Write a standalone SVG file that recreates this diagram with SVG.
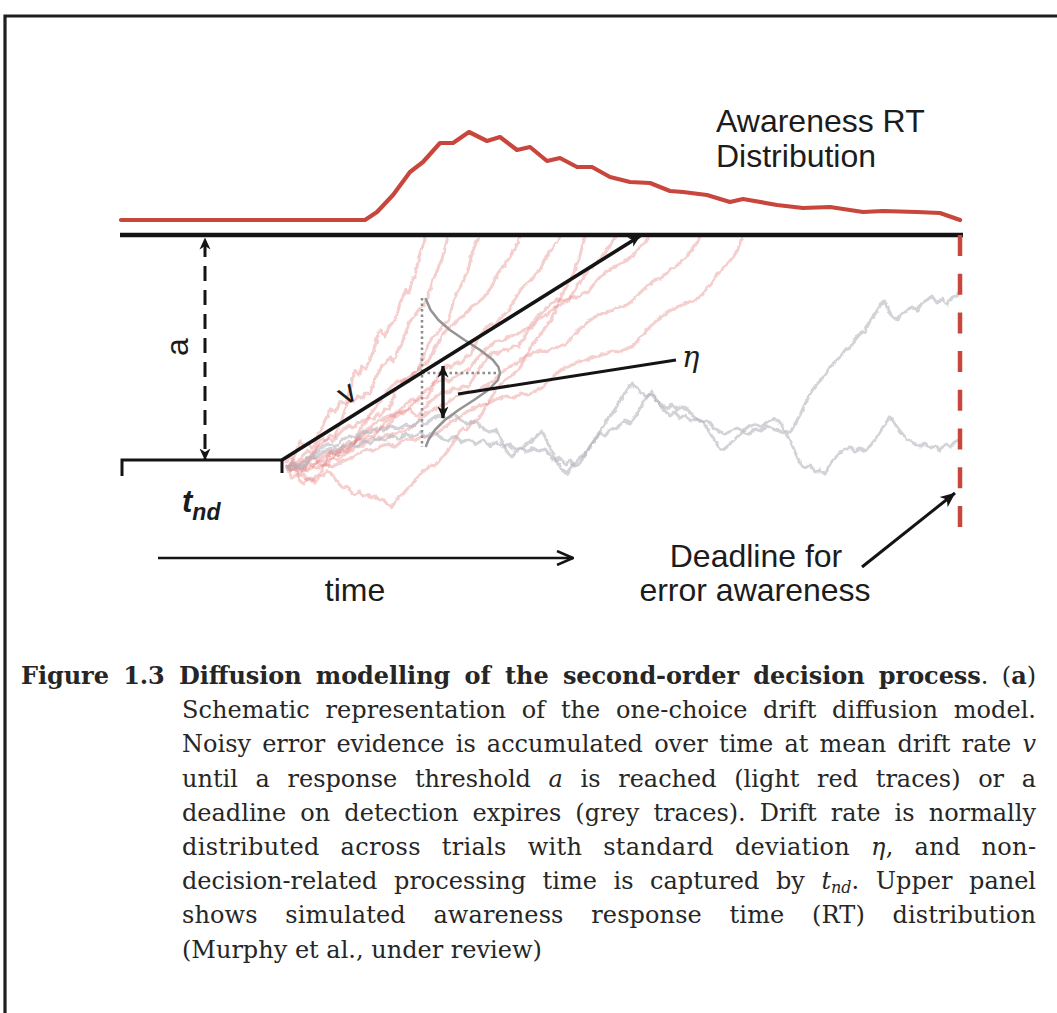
<svg xmlns="http://www.w3.org/2000/svg" width="1057" height="1013" viewBox="0 0 1057 1013">
  <style>
    .frame { stroke:#1f1f1f; stroke-width:3.2; fill:none }
    .trace-red { fill:none; stroke:#e47676; stroke-opacity:0.36; stroke-width:3; stroke-linejoin:round }
    .trace-grey { fill:none; stroke:#b4b4bc; stroke-opacity:0.6; stroke-width:3; stroke-linejoin:round }
    .ink { fill:none; stroke:#141414; stroke-linecap:butt }
    .dots { fill:none; stroke:#8c8c8c; stroke-width:2.5; stroke-dasharray:2.5 3 }
    .lbl { font-family:"Liberation Sans", Arial, Helvetica, sans-serif; font-size:32px; fill:#1c1c1c }
    .cap { font-family:"DejaVu Serif", "Liberation Serif", serif; font-size:24px; fill:#262626 }
  </style>
  <defs>
    <marker id="head" viewBox="0 0 12 12" refX="11.5" refY="6" markerWidth="12" markerHeight="12" markerUnits="userSpaceOnUse" orient="auto-start-reverse">
      <path d="M0,0.5 L12,6 L0,11.5 L3.5,6 z" fill="#141414"/>
    </marker>
    <marker id="head-lg" viewBox="0 0 15 14" refX="14.5" refY="7" markerWidth="15" markerHeight="14" markerUnits="userSpaceOnUse" orient="auto">
      <path d="M0,0.5 L15,7 L0,13.5 L4,7 z" fill="#141414"/>
    </marker>
    <marker id="chevron" viewBox="0 0 18 16" refX="17" refY="8" markerWidth="18" markerHeight="16" markerUnits="userSpaceOnUse" orient="auto">
      <path d="M1,1 L17,8 L1,15" fill="none" stroke="#141414" stroke-width="2.5"/>
    </marker>
    <filter id="jitter" filterUnits="userSpaceOnUse" x="250" y="220" width="740" height="310">
      <feTurbulence type="fractalNoise" baseFrequency="0.22" numOctaves="1" seed="7" result="noise"/>
      <feDisplacementMap in="SourceGraphic" in2="noise" scale="4" xChannelSelector="R" yChannelSelector="G"/>
    </filter>
  </defs>

  <rect width="1057" height="1013" fill="#ffffff"/>

  <!-- page frame -->
  <g id="frame">
    <path class="frame" d="M5,1013 V16 H1057"/>
  </g>

  <!-- simulated diffusion traces -->
  <g id="traces" filter="url(#jitter)">
    <g id="hit-traces">
      <polyline class="trace-red" points="286,463 290,456 293,460 297,449 300,441 304,446 308,443 312,449 315,444 318,435 322,428 325,420 328,415 331,409 335,412 339,404 342,401 346,404 349,393 352,381 355,371 359,375 362,366 366,368 370,359 373,352 376,343 378,333 381,330 385,336 389,327 393,322 397,315 400,303 403,296 406,290 409,293 412,281 415,276 417,267 419,257 421,250 424,243 426,237"/>
      <polyline class="trace-red" points="287,465 291,470 295,467 299,474 303,470 307,463 311,456 315,451 318,443 322,438 326,441 330,435 334,437 338,429 341,422 344,413 347,405 350,399 354,402 358,396 362,398 366,393 370,394 373,385 376,377 379,372 382,366 386,363 390,358 394,361 398,350 401,346 404,337 407,329 410,321 413,318 417,312 421,307 425,304 428,296 431,287 433,279 436,274 439,266 442,259 444,252 446,244 448,237"/>
      <polyline class="trace-red" points="286,466 289,473 292,478 296,475 300,481 304,484 308,478 312,481 316,476 320,474 324,466 327,458 331,452 335,449 339,452 343,446 347,448 351,444 355,443 358,434 361,427 365,423 369,418 373,420 377,414 381,416 385,409 389,410 392,401 395,393 398,388 401,383 405,379 409,382 413,373 417,371 420,366 423,356 426,349 429,343 432,338 436,334 440,330 444,324 448,321 451,312 453,302 456,295 459,289 462,284 465,276 468,271 470,262 472,253 475,246 478,237"/>
      <polyline class="trace-red" points="288,466 293,460 298,462 303,455 308,451 313,454 318,447 323,443 328,438 333,441 338,435 343,430 348,426 353,428 358,423 363,421 368,417 373,411 378,404 383,397 388,390 393,385 398,381 403,383 408,377 413,374 418,369 423,366 428,362 432,354 436,346 440,340 444,333 448,328 452,325 456,322 460,318 464,316 468,311 472,306 476,304 480,301 484,297 488,292 492,286 495,279 498,273 502,268 506,263 510,257 514,250 517,244 520,237"/>
      <polyline class="trace-red" points="287,467 292,463 297,468 302,466 307,471 312,468 317,462 322,459 327,456 332,452 337,455 342,451 347,452 352,446 357,440 362,437 367,432 372,429 377,432 382,427 387,428 392,420 397,413 402,408 407,403 412,399 417,402 422,397 427,398 431,390 435,381 439,375 443,370 447,365 451,368 456,362 461,364 466,357 471,354 475,345 479,337 483,332 487,327 491,324 495,326 500,318 505,314 510,309 514,301 518,294 522,288 526,284 530,281 535,275 540,270 544,261 548,254 552,249 556,243 560,237"/>
      <polyline class="trace-red" points="287,466 291,471 295,469 299,476 303,474 307,480 311,478 315,483 319,477 323,475 327,471 331,473 335,479 339,484 343,488 347,486 351,492 355,495 359,491 363,496 367,494 371,498 375,495 379,501 383,499 387,504 391,507 395,503 399,497 403,494 407,489 411,486 415,480 419,476 423,471 427,469 431,465 435,466 439,460 443,457 447,452 451,447 455,440 459,432 463,428 467,430 471,424 475,421 479,419 483,412 487,404 491,398 495,391 499,386 503,382 507,379 511,376 515,372 519,370 523,362 527,354 531,347 535,341 539,336 543,331 547,325 551,320 555,311 559,301 563,293 567,286 571,279 574,272 577,264 580,256 582,247 585,237"/>
      <polyline class="trace-red" points="288,468 293,464 298,466 303,460 308,462 313,458 318,463 323,466 328,464 333,457 338,450 343,446 348,441 353,443 358,439 363,441 368,436 373,437 378,431 383,424 388,420 393,415 398,411 403,414 408,409 413,413 418,416 423,410 428,404 433,399 438,395 443,391 448,393 453,388 458,390 463,386 468,387 473,379 478,370 483,364 488,357 493,352 498,354 503,349 508,351 513,346 518,347 523,339 528,331 533,326 538,320 543,316 548,314 553,309 558,306 563,303 568,301 573,293 578,285 583,278 588,271 593,266 598,262 603,256 607,250 611,244 615,237"/>
      <polyline class="trace-red" points="288,468 294,463 300,465 306,459 312,457 318,459 324,454 330,452 336,455 342,451 348,449 354,444 360,436 366,430 372,426 378,421 384,419 390,415 396,417 402,412 408,409 414,403 420,396 426,390 432,386 438,381 444,379 450,381 456,376 462,373 468,370 474,362 480,355 486,349 492,344 498,340 504,341 510,336 516,335 522,331 528,328 534,321 540,314 546,308 552,303 558,299 564,301 570,297 576,298 582,294 588,292 594,284 600,277 606,272 612,268 618,265 624,262 630,258 636,252 641,246 646,241 650,237"/>
      <polyline class="trace-red" points="289,470 295,466 301,469 307,463 313,465 319,461 325,462 331,458 337,460 343,455 349,452 355,448 361,446 367,441 373,438 379,440 385,435 391,436 397,433 403,431 409,429 415,424 421,418 427,413 433,410 439,406 445,404 451,400 457,396 463,394 469,391 475,393 481,388 487,386 493,381 499,375 505,370 511,366 517,363 523,358 529,355 535,352 541,350 547,352 553,348 559,347 565,344 571,339 577,332 583,326 589,321 595,317 601,314 607,312 613,310 619,307 625,306 631,302 637,296 643,290 649,284 655,280 661,278 667,273 673,268 679,264 685,258 690,252 695,246 700,237"/>
      <polyline class="trace-red" points="290,472 297,468 304,471 311,466 318,468 325,464 332,467 339,463 346,460 353,457 360,453 367,449 374,451 381,446 388,444 395,447 402,441 409,439 416,440 423,436 430,437 437,433 444,428 451,422 458,418 465,413 472,409 479,406 486,404 493,401 500,398 507,396 514,398 521,393 528,395 535,391 542,388 549,381 556,374 563,369 570,366 577,362 584,361 591,358 598,356 605,354 612,351 619,352 626,349 633,346 640,338 647,330 654,323 661,317 668,312 675,308 682,305 689,302 696,300 703,294 709,286 714,279 719,272 724,267 729,262 734,256 738,249 742,237"/>
    </g>
    <g id="miss-traces">
      <polyline class="trace-grey" points="286,468 293,463 300,466 307,458 314,455 321,448 328,444 335,447 342,440 349,436 356,438 363,431 370,433 377,428 384,430 391,426 398,429 405,425 412,427 419,421 426,424 433,418 440,416 447,419 454,414 461,420 468,424 475,421 482,428 489,432 496,430 502,441 507,452 512,457 517,451 522,448 527,444 532,440 537,436 542,431 547,441 552,452 557,462 562,470 567,474 572,466 577,461 582,456 587,452 592,444 597,436 602,428 607,420 612,414 617,406 622,398 627,389 632,384 637,388 642,394 647,397 652,392 657,401 662,405 667,409 672,404 677,410 683,406 689,412 695,418 701,422 707,420 713,427 719,431 725,434 731,431 737,428 743,431 749,426 755,424 761,427 767,422 773,419 779,421 785,431 790,433 795,424 800,415 805,404 810,394 815,386 820,381 825,375 830,367 835,362 840,357 845,350 850,348 855,340 860,334 865,331 870,321 875,314 880,306 884,300 888,309 892,316 897,320 902,314 907,310 912,307 917,311 922,303 927,300 932,296 937,303 942,299 947,304 952,297 957,296 960,292"/>
      <polyline class="trace-grey" points="287,470 294,466 301,469 308,462 315,458 322,452 329,449 336,452 343,447 350,444 357,447 364,441 371,443 378,438 385,440 392,436 399,439 406,434 413,437 420,433 427,436 434,432 441,438 448,441 455,436 462,442 469,439 476,444 483,440 490,446 497,442 503,447 509,444 515,449 521,447 527,452 533,448 539,451 545,449 550,455 555,461 560,458 565,464 570,461 575,466 580,463 585,455 590,446 595,440 600,433 605,436 610,430 615,428 620,425 625,421 630,423 635,417 640,408 645,400 650,393 655,398 660,405 665,411 670,416 675,412 680,418 685,415 691,421 697,419 703,422 708,430 713,438 718,446 723,450 728,446 733,441 738,436 743,432 749,434 755,429 761,431 767,426 773,429 779,431 785,433 790,440 795,452 800,463 805,468 810,465 815,472 820,470 825,474 830,464 835,458 840,453 845,449 850,447 855,452 860,448 865,451 870,446 875,440 880,432 885,424 890,417 895,424 900,431 905,437 910,441 915,444 920,447 925,443 930,448 935,446 940,450 945,444 950,447 955,442 958,440"/>
    </g>
  </g>

  <!-- across-trial drift distribution -->
  <g id="drift-distribution">
    <path class="dots" d="M422,298 V447 M422,373 H500"/>
    <path d="M425.4,298 L430.6,310 L438.4,320 L449.9,330 L464.6,340 L480.1,350 L493,360 L498.4,367 L500,373 L497.9,380 L488.4,390 L474,400 L458.5,410 L444.9,420 L434.8,430 L428.4,440 L425.7,447" fill="none" stroke="#949494" stroke-width="2.5" stroke-linejoin="round"/>
  </g>

  <!-- awareness RT distribution -->
  <g id="rt-distribution">
    <polyline points="121,220 365,220 377,212 393,195 410,172 423,162 440,143 453,143 469,132 487,141 500,137 517,150 530,147 547,161 560,158 577,167 592,167 610,177 630,182 650,183 670,191 683,192 707,195 730,202 743,199 777,205 803,208 830,207 863,212 883,211 917,212 940,213 960,220" fill="none" stroke="#c8463c" stroke-width="4.2" stroke-linejoin="round" stroke-linecap="round"/>
    <text class="lbl" x="716" y="132">Awareness RT</text>
    <text class="lbl" x="716" y="167">Distribution</text>
  </g>

  <!-- bounds -->
  <g id="threshold">
    <path class="ink" d="M120,235 H963" stroke-width="4.6"/>
  </g>
  <g id="non-decision-time">
    <path class="ink" d="M122,476 V460 H282 V473" stroke-width="3"/>
    <text x="182" y="512" font-family="Liberation Sans, Arial, sans-serif" font-style="italic" font-weight="bold" font-size="31" fill="#1c1c1c">t<tspan font-size="23" dy="8">nd</tspan></text>
  </g>
  <g id="deadline">
    <path d="M960,235 V527" fill="none" stroke="#c8463c" stroke-width="4.5" stroke-dasharray="21 17.7"/>
    <text class="lbl" x="756" y="567" text-anchor="middle">Deadline for</text>
    <text class="lbl" x="755" y="601" text-anchor="middle">error awareness</text>
  </g>
  <g id="time-axis">
    <text class="lbl" x="355" y="601" text-anchor="middle">time</text>
  </g>

  <!-- connectors -->
  <g id="connectors">
    <path class="ink" d="M205,238 V460" stroke-width="3" stroke-dasharray="15 9" stroke-dashoffset="-4" marker-start="url(#head)" marker-end="url(#head)"/>
    <path class="ink" d="M282,460 L640,236" stroke-width="3.6" marker-end="url(#head)"/>
    <path class="ink" d="M443,366 V418" stroke-width="3.4" marker-start="url(#head)" marker-end="url(#head)"/>
    <path class="ink" d="M458,394 L676,360" stroke-width="3"/>
    <path class="ink" d="M158,558 H573" stroke-width="2.6" marker-end="url(#chevron)"/>
    <path class="ink" d="M862,567 L955,493" stroke-width="3" marker-end="url(#head-lg)"/>
  </g>

  <!-- parameter labels -->
  <g id="labels">
    <text class="lbl" transform="translate(188,347) rotate(-90)" text-anchor="middle">a</text>
    <text class="lbl" transform="translate(348,395) rotate(-32)" y="8" text-anchor="middle">v</text>
    <text x="682" y="367" font-family="DejaVu Serif, serif" font-style="italic" font-size="29" fill="#1c1c1c">η</text>
  </g>

  <!-- caption -->
  <g id="caption" class="cap">
    <text x="21" y="684" textLength="1015" lengthAdjust="spacing" word-spacing="6"><tspan font-weight="bold">Figure 1.3 Diffusion modelling of the second-order decision process</tspan>. (<tspan font-weight="bold">a</tspan>)</text>
    <text x="182" y="718" textLength="854" lengthAdjust="spacing" word-spacing="8">Schematic representation of the one-choice drift diffusion model.</text>
    <text x="182" y="752" textLength="854" lengthAdjust="spacing" word-spacing="3.5">Noisy error evidence is accumulated over time at mean drift rate <tspan font-style="italic">v</tspan></text>
    <text x="182" y="787" textLength="854" lengthAdjust="spacing" word-spacing="10">until a response threshold <tspan font-style="italic">a</tspan> is reached (light red traces) or a</text>
    <text x="182" y="821" textLength="854" lengthAdjust="spacing" word-spacing="6.5">deadline on detection expires (grey traces). Drift rate is normally</text>
    <text x="182" y="855" textLength="854" lengthAdjust="spacing" word-spacing="13">distributed across trials with standard deviation <tspan font-style="italic">η</tspan>, and non-</text>
    <text x="182" y="889" textLength="854" lengthAdjust="spacing" word-spacing="9">decision-related processing time is captured by <tspan font-style="italic">t</tspan><tspan font-style="italic" font-size="16" dy="4">nd</tspan><tspan dy="-4">. Upper panel</tspan></text>
    <text x="182" y="923" textLength="854" lengthAdjust="spacing" word-spacing="20">shows simulated awareness response time (RT) distribution</text>
    <text x="182" y="958">(Murphy et al., under review)</text>
  </g>
</svg>
